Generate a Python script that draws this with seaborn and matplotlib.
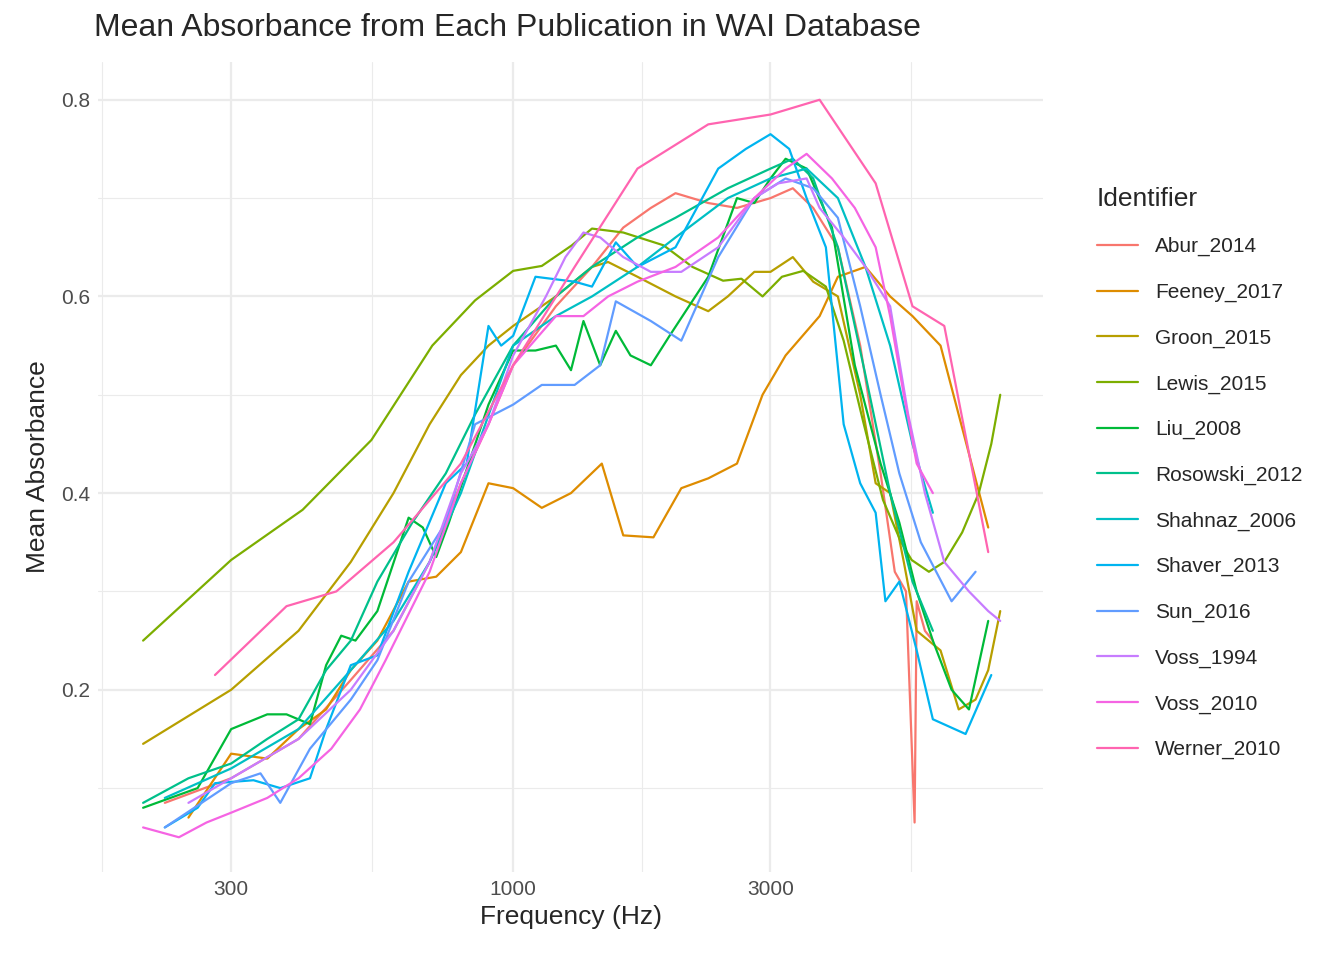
import matplotlib
matplotlib.use("Agg")
import matplotlib.pyplot as plt
import seaborn as sns
import pandas as pd
from matplotlib.ticker import FixedLocator, NullFormatter

abur = [(226,0.085),(300,0.11),(400,0.15),(500,0.21),(600,0.26),(700,0.33),(800,0.41),(900,0.47),(1000,0.53),(1200,0.59),(1400,0.63),(1600,0.67),(1800,0.69),(2000,0.705),(2300,0.695),(2600,0.69),(3000,0.70),(3300,0.71),(3600,0.69),(4000,0.65),(4400,0.55),(4800,0.42),(5100,0.32),(5350,0.30),(5550,0.065),(5600,0.29),(5800,0.26),(6000,0.25)]
feeney = [(250,0.07),(300,0.135),(350,0.13),(400,0.16),(450,0.18),(500,0.22),(560,0.25),(640,0.31),(720,0.315),(800,0.34),(900,0.41),(1000,0.405),(1130,0.385),(1280,0.40),(1460,0.43),(1600,0.357),(1820,0.355),(2050,0.405),(2300,0.415),(2600,0.43),(2900,0.5),(3200,0.54),(3700,0.58),(4000,0.62),(4500,0.63),(5000,0.6),(5500,0.58),(6200,0.55),(7000,0.44),(7600,0.365)]
groon = [(206,0.145),(300,0.2),(400,0.26),(500,0.33),(600,0.4),(700,0.47),(800,0.52),(900,0.55),(1000,0.57),(1200,0.6),(1400,0.63),(1500,0.635),(1700,0.62),(2000,0.6),(2300,0.585),(2500,0.6),(2800,0.625),(3000,0.625),(3300,0.64),(3600,0.615),(4000,0.6),(4400,0.5),(4700,0.41),(5000,0.4),(5300,0.33),(5600,0.26),(6200,0.24),(6700,0.18),(7200,0.19),(7600,0.22),(8000,0.28)]
lewis = [(206,0.25),(300,0.332),(407,0.383),(546,0.454),(708,0.55),(850,0.596),(1000,0.626),(1130,0.631),(1285,0.652),(1400,0.669),(1600,0.665),(1900,0.652),(2150,0.63),(2450,0.616),(2650,0.618),(2900,0.6),(3150,0.62),(3450,0.626),(3800,0.61),(4100,0.555),(4450,0.474),(4850,0.393),(5240,0.35),(5480,0.332),(5900,0.32),(6300,0.33),(6800,0.36),(7300,0.40),(7700,0.45),(8000,0.5)]
liu = [(206,0.08),(260,0.1),(300,0.16),(350,0.175),(380,0.175),(420,0.165),(450,0.225),(480,0.255),(510,0.25),(560,0.28),(640,0.375),(680,0.365),(720,0.335),(760,0.37),(900,0.49),(1000,0.545),(1100,0.545),(1200,0.55),(1280,0.525),(1350,0.575),(1450,0.53),(1550,0.565),(1650,0.54),(1800,0.53),(1950,0.56),(2300,0.62),(2600,0.70),(2800,0.695),(3000,0.72),(3200,0.74),(3500,0.73),(3900,0.67),(4300,0.53),(4800,0.43),(5200,0.37),(5600,0.3),(6000,0.25),(6500,0.2),(7000,0.18),(7600,0.27)]
rosowski = [(206,0.085),(250,0.11),(300,0.125),(350,0.15),(400,0.17),(450,0.22),(500,0.25),(560,0.31),(650,0.37),(750,0.42),(850,0.48),(1000,0.55),(1200,0.6),(1400,0.63),(1700,0.66),(2000,0.68),(2500,0.71),(3000,0.73),(3300,0.74),(3600,0.72),(4000,0.65),(4500,0.52),(5000,0.4),(5500,0.31),(6000,0.26)]
shahnaz = [(226,0.09),(300,0.12),(400,0.16),(500,0.22),(600,0.27),(700,0.33),(800,0.4),(1000,0.55),(1200,0.58),(1400,0.6),(1700,0.63),(2000,0.66),(2500,0.7),(3000,0.72),(3500,0.73),(4000,0.7),(4500,0.63),(5000,0.55),(5500,0.45),(6000,0.38)]
shaver = [(226,0.06),(260,0.08),(280,0.105),(330,0.108),(370,0.10),(420,0.11),(450,0.16),(500,0.225),(560,0.235),(640,0.32),(750,0.41),(820,0.43),(900,0.57),(950,0.55),(1000,0.56),(1100,0.62),(1300,0.615),(1400,0.61),(1550,0.655),(1700,0.63),(2000,0.65),(2400,0.73),(2700,0.75),(3000,0.765),(3250,0.75),(3500,0.7),(3800,0.65),(4100,0.47),(4400,0.41),(4700,0.38),(4900,0.29),(5200,0.31),(5600,0.24),(6000,0.17),(6900,0.155),(7700,0.215)]
sun = [(226,0.06),(300,0.105),(340,0.115),(370,0.085),(420,0.14),(500,0.19),(560,0.23),(640,0.31),(750,0.37),(850,0.47),(1000,0.49),(1130,0.51),(1300,0.51),(1450,0.53),(1550,0.595),(1800,0.575),(2050,0.555),(2400,0.64),(2800,0.7),(3200,0.72),(3600,0.71),(4000,0.68),(4400,0.59),(4800,0.5),(5200,0.42),(5700,0.35),(6500,0.29),(7200,0.32)]
voss94 = [(250,0.085),(300,0.11),(400,0.15),(500,0.2),(600,0.26),(700,0.33),(800,0.42),(900,0.47),(1000,0.54),(1150,0.6),(1250,0.64),(1350,0.665),(1450,0.66),(1600,0.64),(1800,0.625),(2050,0.625),(2400,0.65),(2800,0.7),(3100,0.715),(3500,0.72),(3700,0.69),(4100,0.66),(4500,0.63),(5000,0.59),(5400,0.48),(5800,0.4),(6300,0.33),(7000,0.3),(7600,0.28),(8000,0.27)]
voss10 = [(206,0.06),(240,0.05),(270,0.065),(300,0.075),(350,0.09),(400,0.11),(460,0.14),(520,0.18),(580,0.23),(700,0.32),(800,0.41),(900,0.47),(1000,0.53),(1200,0.58),(1350,0.58),(1500,0.6),(1700,0.615),(2000,0.63),(2400,0.66),(2800,0.7),(3200,0.73),(3500,0.745),(3900,0.72),(4300,0.69),(4700,0.65),(5000,0.58),(5300,0.5),(5600,0.43),(6000,0.4)]
werner = [(280,0.215),(380,0.285),(470,0.3),(600,0.35),(800,0.43),(1000,0.53),(1300,0.63),(1700,0.73),(2300,0.775),(3000,0.785),(3700,0.8),(4700,0.715),(5500,0.59),(6300,0.57),(7600,0.34)]

names = ["Abur_2014","Feeney_2017","Groon_2015","Lewis_2015","Liu_2008","Rosowski_2012",
         "Shahnaz_2006","Shaver_2013","Sun_2016","Voss_1994","Voss_2010","Werner_2010"]
series = [abur,feeney,groon,lewis,liu,rosowski,shahnaz,shaver,sun,voss94,voss10,werner]
colors = ["#F8766D","#DE8C00","#B79F00","#7CAE00","#00BA38","#00C08B",
          "#00BFC4","#00B4F0","#619CFF","#C77CFF","#F564E3","#FF64B0"]

rows = []
for n, s in zip(names, series):
    for f, v in s:
        rows.append({"Frequency": f, "Absorbance": v, "Identifier": n})
df = pd.DataFrame(rows)

sns.set_theme(style="whitegrid")
plt.rcParams['font.family'] = ['Liberation Sans', 'DejaVu Sans']
fig = plt.figure(figsize=(13.44, 9.6), dpi=100)
ax = fig.add_axes([0.073, 0.092, 0.703, 0.843])
sns.lineplot(data=df, x="Frequency", y="Absorbance", hue="Identifier",
             palette=dict(zip(names, colors)), estimator=None, sort=False,
             linewidth=1.6, ax=ax, legend=True)
ax.set_xscale("log")
ax.set_xlim(170, 9600)
ax.set_ylim(0.015, 0.838)
ax.xaxis.set_major_locator(FixedLocator([300, 1000, 3000]))
ax.set_xticklabels(["300", "1000", "3000"])
ax.xaxis.set_minor_locator(FixedLocator([173.2, 547.7, 1732, 5477]))
ax.xaxis.set_minor_formatter(NullFormatter())
ax.set_yticks([0.2, 0.4, 0.6, 0.8])
ax.set_yticklabels(["0.2", "0.4", "0.6", "0.8"])
ax.yaxis.set_minor_locator(FixedLocator([0.1, 0.3, 0.5, 0.7]))
ax.grid(which="major", color="#EBEBEB", linewidth=1.6)
ax.grid(which="minor", color="#EBEBEB", linewidth=0.8)
ax.set_facecolor("white")
for sp in ax.spines.values():
    sp.set_visible(False)
ax.tick_params(axis="both", which="both", length=0, labelsize=15, labelcolor="#4D4D4D", pad=6)
ax.set_xlabel("Frequency (Hz)", fontsize=19, labelpad=4)
ax.set_ylabel("Mean Absorbance", fontsize=19, labelpad=8)
fig.text(0.07, 0.971, "Mean Absorbance from Each Publication in WAI Database", fontsize=23, va="center")

h, l = ax.get_legend_handles_labels()
ax.legend_.remove()
leg = fig.legend(h, l, title="Identifier", loc="upper left", bbox_to_anchor=(0.802, 0.825),
                 frameon=False, fontsize=15, title_fontsize=19, labelspacing=1.27,
                 handlelength=2.0)
leg._legend_box.align = "left"
fig.savefig("out.png", dpi=100)
